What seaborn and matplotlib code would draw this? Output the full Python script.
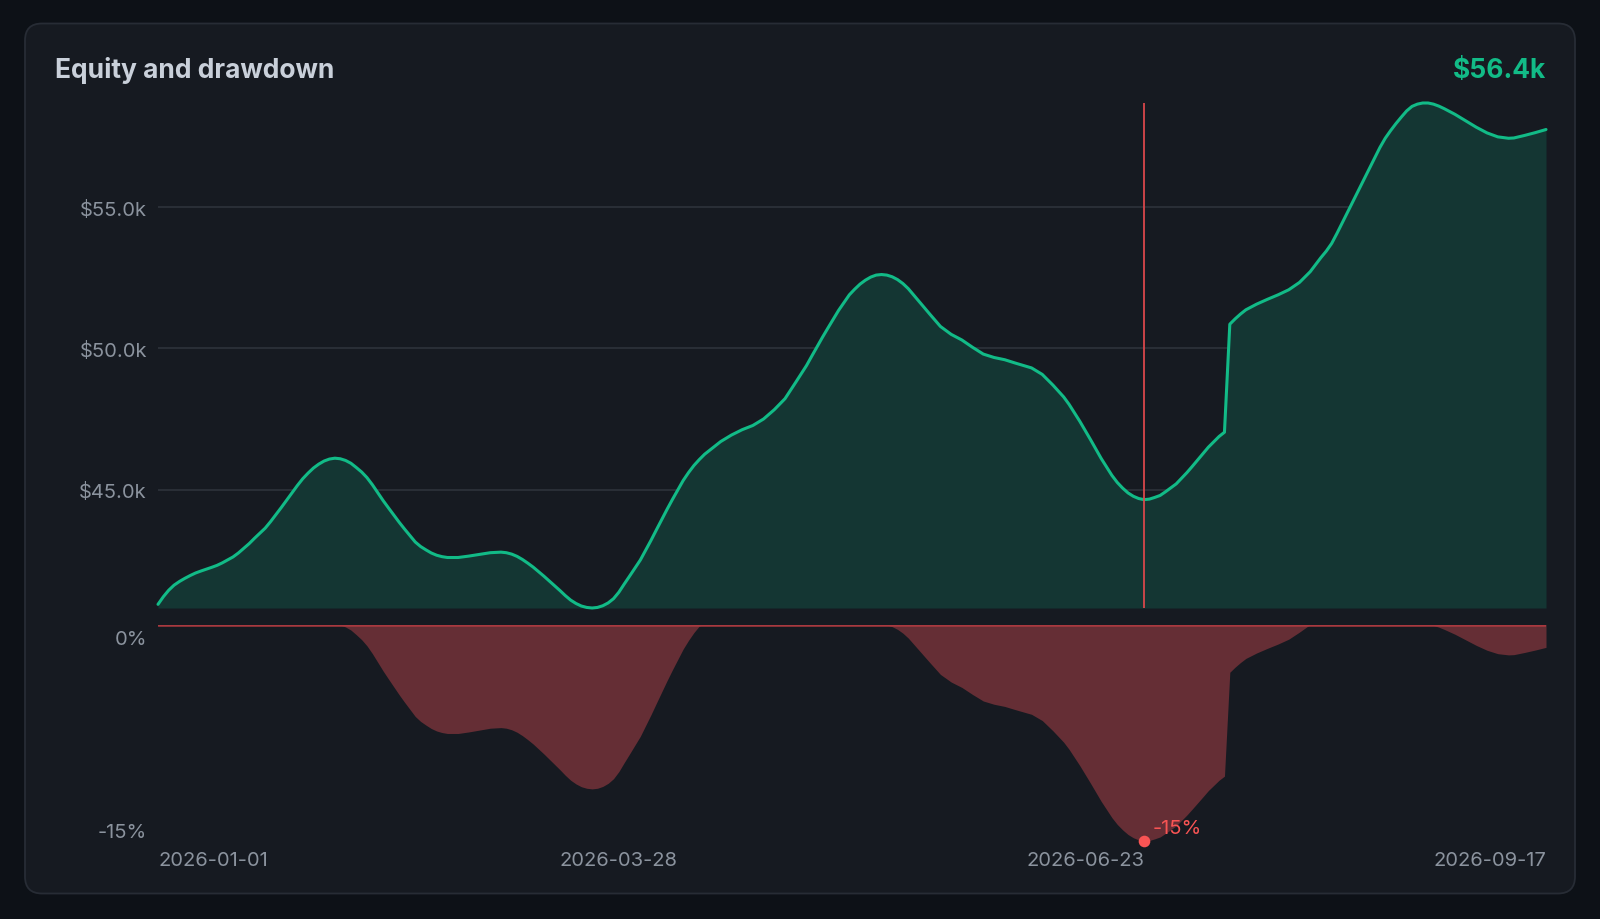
import numpy as np
import pandas as pd
import matplotlib
matplotlib.use("Agg")
import matplotlib.pyplot as plt
import matplotlib.transforms as mtransforms
from matplotlib.patches import FancyBboxPatch
import seaborn as sns

# ---------------- data ----------------
start_date = "2026-01-01"
day_offsets = [
    0, 1, 2, 3, 4, 5, 6, 7, 8, 10,
    11, 12, 14, 15, 17, 18, 20, 21, 22, 23,
    24, 25, 26, 27, 28, 29, 30, 31, 32, 33,
    34, 35, 36, 37, 38, 39, 40, 42, 43, 45,
    46, 48, 49, 50, 51, 52, 53, 54, 56, 58,
    60, 61, 62, 64, 65, 66, 67, 68, 69, 70,
    72, 73, 75, 76, 77, 78, 79, 80, 81, 82,
    83, 84, 85, 86, 87, 88, 90, 92, 93, 95,
    96, 98, 99, 100, 101, 102, 104, 105, 107, 109,
    111, 113, 115, 117, 119, 121, 122, 124, 125, 127,
    129, 130, 131, 132, 133, 134, 135, 136, 137, 138,
    139, 140, 142, 144, 146, 148, 150, 152, 154, 156,
    158, 160, 163, 165, 167, 169, 170, 172, 174, 176,
    178, 179, 180, 181, 182, 183, 184, 185, 186, 187,
    188, 190, 192, 193, 195, 196, 198, 199, 200, 201,
    202, 203, 205, 207, 209, 211, 213, 215, 217, 218,
    219, 220, 222, 223, 225, 226, 228, 229, 230, 231,
    232, 233, 234, 235, 236, 237, 238, 239, 240, 242,
    244, 246, 248, 250, 252, 253, 255, 257, 259]
equity_k = [
    40.93, 41.20, 41.43, 41.61, 41.74, 41.85, 41.95, 42.04, 42.11, 42.24,
    42.31, 42.40, 42.61, 42.75, 43.08, 43.27, 43.63, 43.86, 44.11, 44.36,
    44.62, 44.88, 45.14, 45.38, 45.58, 45.76, 45.90, 46.01, 46.08, 46.11,
    46.09, 46.03, 45.93, 45.78, 45.62, 45.42, 45.17, 44.61, 44.35, 43.84,
    43.60, 43.14, 42.98, 42.86, 42.75, 42.67, 42.62, 42.59, 42.59, 42.64,
    42.70, 42.73, 42.76, 42.78, 42.76, 42.71, 42.63, 42.52, 42.39, 42.25,
    41.93, 41.76, 41.42, 41.24, 41.08, 40.96, 40.87, 40.82, 40.80, 40.82,
    40.88, 40.98, 41.13, 41.36, 41.65, 41.93, 42.50, 43.20, 43.57, 44.30,
    44.65, 45.32, 45.60, 45.85, 46.06, 46.25, 46.55, 46.70, 46.93, 47.12,
    47.27, 47.50, 47.83, 48.22, 48.80, 49.39, 49.73, 50.40, 50.72, 51.35,
    51.90, 52.10, 52.28, 52.42, 52.53, 52.60, 52.62, 52.60, 52.54, 52.44,
    52.30, 52.12, 51.67, 51.22, 50.78, 50.50, 50.30, 50.04, 49.80, 49.68,
    49.60, 49.48, 49.31, 49.08, 48.70, 48.28, 48.02, 47.42, 46.77, 46.10,
    45.50, 45.25, 45.05, 44.88, 44.76, 44.68, 44.64, 44.66, 44.72, 44.79,
    44.92, 45.20, 45.60, 45.82, 46.27, 46.50, 46.88, 47.03, 50.86, 51.05,
    51.22, 51.37, 51.57, 51.74, 51.90, 52.08, 52.34, 52.72, 53.22, 53.45,
    53.72, 54.08, 54.84, 55.22, 55.98, 56.36, 57.12, 57.45, 57.72, 57.97,
    58.20, 58.42, 58.58, 58.66, 58.70, 58.70, 58.66, 58.59, 58.50, 58.30,
    58.07, 57.84, 57.64, 57.50, 57.45, 57.46, 57.55, 57.65, 57.76]
x_tick_labels = ["2026-01-01", "2026-03-28", "2026-06-23", "2026-09-17"]
equity_ticks_k = [45, 50, 55]
title_text = "Equity and drawdown"
headline_value = "$56.4k"

assert len(day_offsets) == len(equity_k)

# ---------------- colours ----------------
OUTER = "#0d1117"
CARD = "#161a21"
BORDER = "#272c35"
GREEN = "#12bb87"
GREEN_FILL = "#143633"
RED_FILL = "#652e35"
RED_ZERO = "#a9393f"
RED_VLINE = "#d8474b"
DOT = "#f85454"
TICK = "#8b939e"
TITLE = "#c9d0da"
GRID = "#2a2f37"

sns.set_style("dark")
plt.rcParams["font.family"] = ["Inter", "DejaVu Sans"]

dates = pd.Timestamp(start_date) + pd.to_timedelta(day_offsets, unit="D")
df = pd.DataFrame({"date": dates, "equity": equity_k})
df["peak"] = df["equity"].cummax()
df["drawdown"] = df["equity"] / df["peak"] - 1.0

emin, emax = df["equity"].min(), df["equity"].max()
imin = int(df["drawdown"].idxmin())
dd_min = df["drawdown"].iloc[imin]
dd_date = df["date"].iloc[imin]
x_lo, x_hi = df["date"].iloc[0], df["date"].iloc[-1]

W, H = 1600, 920
fig = plt.figure(figsize=(W / 100, H / 100), dpi=100)
fig.patch.set_facecolor(OUTER)

# card background
bg = fig.add_axes([0, 0, 1, 1])
bg.set_xlim(0, W)
bg.set_ylim(H, 0)
bg.axis("off")
bg.add_patch(FancyBboxPatch((25, 24.5), 1550, 870,
                            boxstyle="round,pad=0,rounding_size=17",
                            fc=CARD, ec=BORDER, lw=1.3))

L, R = 158, 1546
ax_eq = fig.add_axes([L / W, 1 - 609 / H, (R - L) / W, (609 - 104) / H])
ax_dd = fig.add_axes([L / W, 1 - 842 / H, (R - L) / W, (842 - 625.5) / H])

for ax in (ax_eq, ax_dd):
    ax.set_facecolor("none")
    for s in ax.spines.values():
        s.set_visible(False)
    ax.set_xlim(x_lo, x_hi)

FS = 14.5

# ---- equity panel ----
ax_eq.fill_between(df["date"], df["equity"], emin, color=GREEN_FILL, lw=0, zorder=1)
sns.lineplot(data=df, x="date", y="equity", ax=ax_eq, color=GREEN, lw=2.2, zorder=3)
for ln in ax_eq.lines:
    ln.set_clip_on(False)
    ln.set_solid_joinstyle("round")
ax_eq.axvline(dd_date, color=RED_VLINE, lw=1.3, zorder=4)
ax_eq.set_ylim(emin, emax)
ax_eq.set_xlim(x_lo, x_hi)
ax_eq.set_yticks(equity_ticks_k)
ax_eq.set_yticklabels([f"${v:.1f}k" for v in equity_ticks_k])
ax_eq.set_xticks([])
ax_eq.yaxis.grid(True, color=GRID, lw=1.4, zorder=0)
ax_eq.xaxis.grid(False)
ax_eq.set_axisbelow(True)
ax_eq.tick_params(axis="y", length=0, pad=8, labelcolor=TICK, labelsize=FS)
ax_eq.set_xlabel("")
ax_eq.set_ylabel("")

# ---- drawdown panel ----
ax_dd.fill_between(df["date"], df["drawdown"], 0, color=RED_FILL, lw=0, zorder=1)
ax_dd.axhline(0, color=RED_ZERO, lw=1.8, zorder=2)
ax_dd.set_ylim(dd_min, 0)
ax_dd.set_xlim(x_lo, x_hi)
ax_dd.scatter([dd_date], [dd_min], s=70, color=DOT, zorder=5, clip_on=False, linewidths=0)
ax_dd.annotate(f"{dd_min * 100:.0f}%", xy=(dd_date, dd_min), xytext=(6.5, 9.5),
               textcoords="offset points", ha="left", va="center",
               color=DOT, fontsize=FS, annotation_clip=False)
ax_dd.grid(False)
ax_dd.set_yticks([0, dd_min])
ax_dd.set_yticklabels(["0%", f"{dd_min * 100:.0f}%"])
ax_dd.tick_params(axis="y", length=0, pad=8, labelcolor=TICK, labelsize=FS)
ylabs = ax_dd.get_yticklabels()
ylabs[0].set_transform(ylabs[0].get_transform() +
                       mtransforms.ScaledTranslation(0, -12.5 / 100, fig.dpi_scale_trans))
ylabs[1].set_transform(ylabs[1].get_transform() +
                       mtransforms.ScaledTranslation(0, 11.5 / 100, fig.dpi_scale_trans))

ax_dd.set_xticks(pd.to_datetime(x_tick_labels))
ax_dd.set_xticklabels(x_tick_labels)
ax_dd.tick_params(axis="x", length=0, pad=7.5, labelcolor=TICK, labelsize=FS)
xlabs = ax_dd.get_xticklabels()
xlabs[0].set_ha("left")
xlabs[-1].set_ha("right")
ax_dd.set_xlabel("")
ax_dd.set_ylabel("")

# ---- header texts ----
fig.text(54.5 / W, 1 - 78 / H, title_text, ha="left", va="baseline",
         fontsize=19, fontweight="bold", color=TITLE)
fig.text(R / W, 1 - 78 / H, headline_value, ha="right", va="baseline",
         fontsize=19, fontweight="bold", color=GREEN)

fig.savefig("out.png", dpi=100, facecolor=OUTER)
